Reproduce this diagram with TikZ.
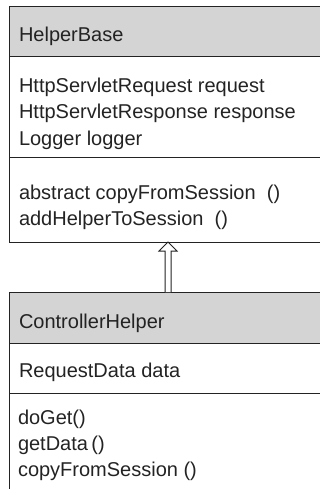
\documentclass[tikz,border=0pt]{standalone}
\usepackage{fontspec}
\setmainfont{Liberation Sans}
\usetikzlibrary{calc}
\definecolor{hdr}{RGB}{212,212,212}
\definecolor{ln}{RGB}{35,35,35}
\begin{document}
\begin{tikzpicture}[x=1pt,y=-1pt,
  box/.style={draw=ln, line width=1pt, anchor=north west, minimum width=318pt, inner sep=0pt, outer sep=0pt},
  hbox/.style={box, fill=hdr},
  txt/.style={anchor=base west, inner sep=0pt, outer sep=0pt, font=\fontsize{20}{26}\selectfont, text=ln},
  gen/.style={draw=ln, line width=1pt, fill=white, line join=miter}]
\useasboundingbox (0,0) rectangle (320,489);
\clip (0,0) rectangle (320,489);
% HelperBase
\node[hbox, minimum height=50pt] (hbh) at (9,7) {};
\node[box, minimum height=100pt] (hba) at (9,57) {};
\node[box, minimum height=85pt] (hbm) at (9,157) {};
\node[txt] (t1) at (19,42) {HelperBase};
\node[txt] (t2) at (19,93) {HttpServletRequest request};
\node[txt] (t3) at (19,119) {HttpServletResponse response};
\node[txt] (t4) at (19,145.5) {Logger logger};
\node[txt] (t5) at (19,199) {abstract copyFromSession\ \ ()};
\node[txt] (t6) at (19,225.5) {addHelperToSession\ \ ()};
% ControllerHelper
\node[hbox, minimum height=51pt] (chh) at (9,292) {};
\node[box, minimum height=50pt] (cha) at (9,343) {};
\node[box, minimum height=120pt] (chm) at (9,393) {};
\node[txt] (u1) at (19,328) {ControllerHelper};
\node[txt] (u2) at (19,377) {RequestData data};
\node[txt] (u3) at (18,424) {doGet()};
\node[txt] (u4) at (18,450) {getData\,()};
\node[txt] (u5) at (18,476) {copyFromSession ()};
% generalization arrow
\draw[gen] ($(chh.north)+(-3,0)$) -- ($(hbm.south)+(-3,9)$) -- ($(hbm.south)+(-9,9)$)
  -- (hbm.south) -- ($(hbm.south)+(9,9)$) -- ($(hbm.south)+(3,9)$) -- ($(chh.north)+(3,0)$);
\end{tikzpicture}
\end{document}
